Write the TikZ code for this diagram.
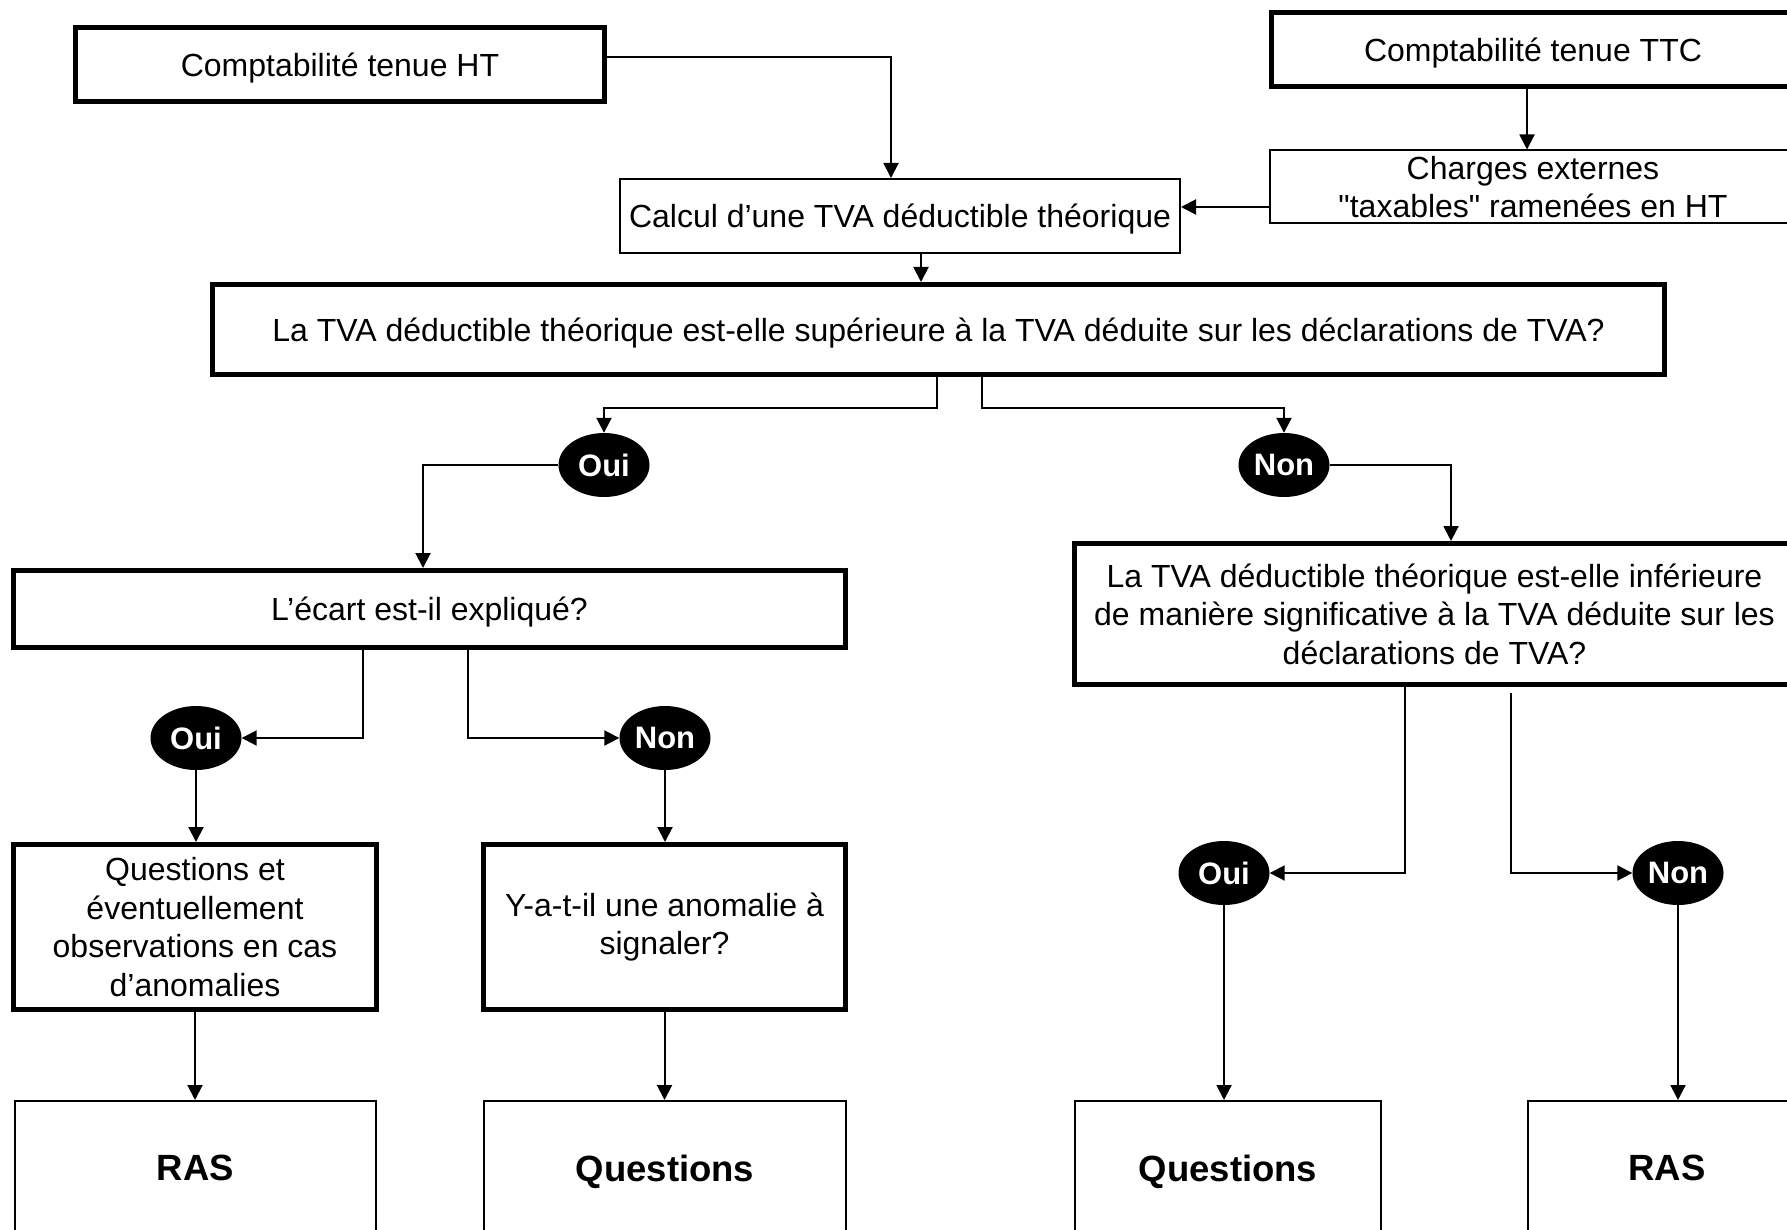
\documentclass[tikz,border=0pt]{standalone}
\usepackage{fontspec}
\setmainfont{Liberation Sans}
\usetikzlibrary{arrows.meta,shapes.geometric}
\begin{document}
\begin{tikzpicture}[x=1pt,y=-1pt,
  every node/.style={inner sep=0pt, align=center, font=\fontsize{32}{38.5}\selectfont},
  thickbox/.style={draw, line width=5pt},
  thinbox/.style={draw, line width=2pt},
  oneline/.style={text depth=0pt},
  yesno/.style={ellipse, fill=black, draw=none, minimum width=91pt, minimum height=64pt, text=white, font=\fontsize{31}{31}\selectfont\bfseries},
  result/.style={thinbox, text depth=0pt, font=\fontsize{36.5}{40}\selectfont\bfseries},
  arr/.style={line width=2pt, -{Triangle[length=15pt,width=15pt]}},
  conn/.style={line width=2pt}
]
\useasboundingbox (0,0) rectangle (1787,1230);
\clip (0,0) rectangle (1787,1230);

\node[thickbox, oneline, minimum width=529pt, minimum height=74pt] (ht) at (340,64.5) {Comptabilité tenue HT};
\node[thickbox, oneline, minimum width=523pt, minimum height=74pt] (ttc) at (1533,49.5) {Comptabilité tenue TTC};
\node[thinbox, minimum width=526pt, minimum height=73pt] (charges) at (1533,187) {Charges externes\\\textquotedbl taxables\textquotedbl{} ramenées en HT};
\node[thinbox, oneline, minimum width=560pt, minimum height=74pt] (calcul) at (900,216) {Calcul d’une TVA déductible théorique};
\node[thickbox, oneline, minimum width=1452pt, minimum height=90pt] (q1) at (938.5,329.5) {La TVA déductible théorique est-elle supérieure à la TVA déduite sur les déclarations de TVA?};

\node[yesno] (oui1) at (604,465) {Oui};
\node[yesno] (non1) at (1284,465) {Non};

\node[thickbox, oneline, minimum width=832pt, minimum height=77pt] (ecart) at (429.5,609) {L’écart est-il expliqué?};
\node[yesno] (oui2) at (196,738) {Oui};
\node[yesno] (non2) at (665,738) {Non};

\node[thickbox, minimum width=363pt, minimum height=165pt] (qobs) at (195,927) {Questions et\\éventuellement\\observations en cas\\d’anomalies};
\node[thickbox, minimum width=362pt, minimum height=165pt] (yat) at (664.5,927) {Y-a-t-il une anomalie à\\signaler?};

\node[result, minimum width=361pt, minimum height=134pt] (ras1) at (195.5,1168) {RAS};
\node[result, minimum width=362pt, minimum height=134pt] (ques1) at (665,1168) {Questions};

\node[thickbox, minimum width=720pt, minimum height=141pt] (q2) at (1434.5,614) {La TVA déductible théorique est-elle inférieure\\de manière significative à la TVA déduite sur les\\déclarations de TVA?};
\node[yesno] (oui3) at (1224,873) {Oui};
\node[yesno] (non3) at (1678,873) {Non};

\node[result, minimum width=306pt, minimum height=134pt] (ques2) at (1228,1168) {Questions};
\node[result, minimum width=278pt, minimum height=134pt] (ras2) at (1667,1168) {RAS};

% connectors
\coordinate (htout) at ([yshift=7.5pt]ht.east);
\coordinate (calin) at ([xshift=-9pt]calcul.north);
\draw[arr] (htout) -| (calin);

\coordinate (ttcout) at ([xshift=-6pt]ttc.south);
\draw[arr] (ttcout) -- (ttcout |- charges.north);

\coordinate (chout) at ([yshift=-20pt]charges.west);
\draw[arr] (chout) -- (chout -| calcul.east);

\coordinate (calout) at ([xshift=21pt]calcul.south);
\draw[arr] (calout) -- (calout |- q1.north);

\draw[arr] ([xshift=-1.5pt]q1.south) -- ++(0,30.5) -| (oui1.north);
\draw[arr] ([xshift=43.5pt]q1.south) -- ++(0,30.5) -| (non1.north);

\draw[arr] (oui1.west) -| ([xshift=-6.5pt]ecart.north);
\draw[arr] (non1.east) -| ([xshift=16.5pt]q2.north);

\draw[arr] ([xshift=-66.5pt]ecart.south) |- (oui2.east);
\draw[arr] ([xshift=38.5pt]ecart.south) |- (non2.west);

\draw[arr] (oui2.south) -- (oui2.south |- qobs.north);
\draw[arr] (non2.south) -- (non2.south |- yat.north);
\draw[arr] (qobs.south) -- (qobs.south |- ras1.north);
\draw[arr] (yat.south) -- (yat.south |- ques1.north);

\draw[arr] ([xshift=-29.5pt,yshift=4pt]q2.south) |- (oui3.east);
\draw[arr] ([xshift=76.5pt,yshift=-6pt]q2.south) |- (non3.west);

\draw[arr] (oui3.south) -- (oui3.south |- ques2.north);
\draw[arr] (non3.south) -- (non3.south |- ras2.north);
\end{tikzpicture}
\end{document}
